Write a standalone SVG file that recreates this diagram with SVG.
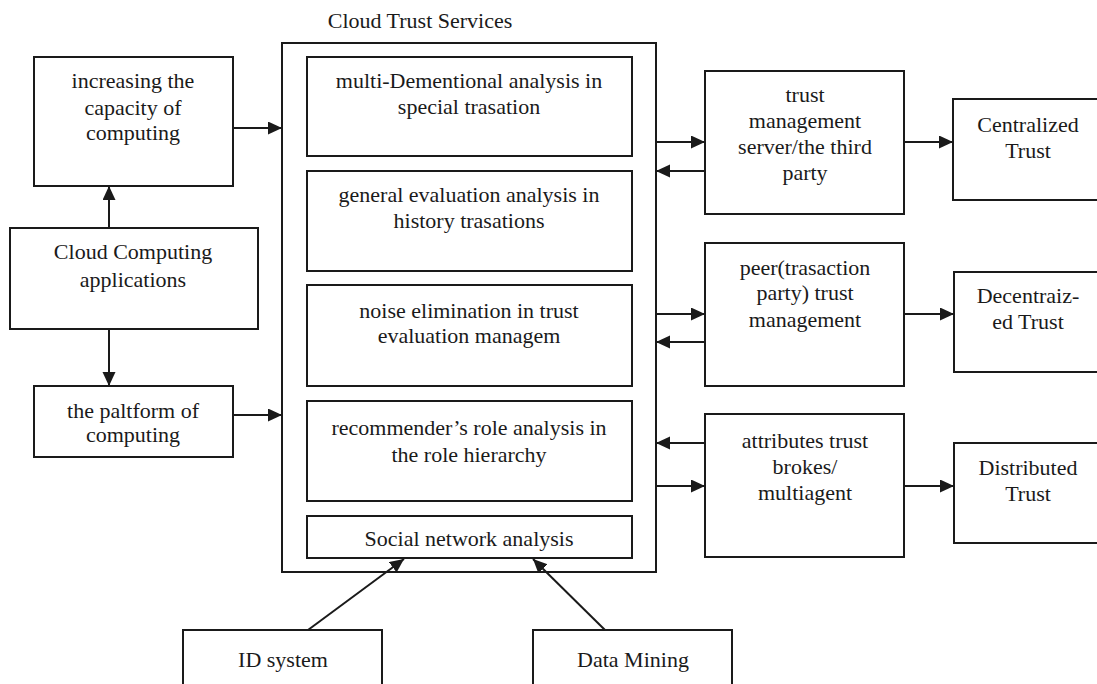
<svg xmlns="http://www.w3.org/2000/svg" width="1097" height="684" viewBox="0 0 1097 684">
  <defs>
    <marker id="ah" markerUnits="userSpaceOnUse" markerWidth="15" markerHeight="14" refX="14" refY="6.5" orient="auto">
      <path d="M0,0 L14,6.5 L0,13 z" fill="#1a1a1a"/>
    </marker>
    <style>
      .box { fill: #ffffff; stroke: #1a1a1a; stroke-width: 2; }
      .t { font-family: "Liberation Serif", "Times New Roman", serif; font-size: 22px; fill: #1a1a1a; text-anchor: middle; }
      .c { stroke: #1a1a1a; stroke-width: 2; fill: none; marker-end: url(#ah); }
    </style>
  </defs>
  <rect width="1097" height="684" fill="#ffffff"/>

  <g id="cloud-trust-services">
    <rect class="box" x="282" y="43" width="374" height="529"/>
    <text class="t" x="420" y="28">Cloud Trust Services</text>
  </g>
  <g id="multi-dimensional">
    <rect class="box" x="307" y="57" width="325" height="99"/>
    <text class="t" x="469" y="88">multi-Dementional analysis in</text>
    <text class="t" x="469" y="114">special trasation</text>
  </g>
  <g id="general-evaluation">
    <rect class="box" x="307" y="171" width="325" height="100"/>
    <text class="t" x="469" y="202">general evaluation analysis in</text>
    <text class="t" x="469" y="228">history trasations</text>
  </g>
  <g id="noise-elimination">
    <rect class="box" x="307" y="285" width="325" height="101"/>
    <text class="t" x="469" y="318">noise elimination in trust</text>
    <text class="t" x="469" y="343">evaluation managem</text>
  </g>
  <g id="recommender">
    <rect class="box" x="307" y="401" width="325" height="100"/>
    <text class="t" x="469" y="435">recommender’s role analysis in</text>
    <text class="t" x="469" y="462">the role hierarchy</text>
  </g>
  <g id="social-network">
    <rect class="box" x="307" y="516" width="325" height="42"/>
    <text class="t" x="469" y="546">Social network analysis</text>
  </g>

  <g id="increasing-capacity">
    <rect class="box" x="34" y="57" width="199" height="129"/>
    <text class="t" x="133" y="88">increasing the</text>
    <text class="t" x="133" y="115">capacity of</text>
    <text class="t" x="133" y="140">computing</text>
  </g>
  <g id="cloud-computing-applications">
    <rect class="box" x="10" y="228" width="248" height="101"/>
    <text class="t" x="133" y="259">Cloud Computing</text>
    <text class="t" x="133" y="287">applications</text>
  </g>
  <g id="platform">
    <rect class="box" x="34" y="386" width="199" height="71"/>
    <text class="t" x="133" y="418">the paltform of</text>
    <text class="t" x="133" y="442">computing</text>
  </g>

  <g id="trust-management-server">
    <rect class="box" x="705" y="71" width="199" height="143"/>
    <text class="t" x="805" y="102">trust</text>
    <text class="t" x="805" y="128">management</text>
    <text class="t" x="805" y="154">server/the third</text>
    <text class="t" x="805" y="180">party</text>
  </g>
  <g id="peer-trust-management">
    <rect class="box" x="705" y="243" width="199" height="143"/>
    <text class="t" x="805" y="275">peer(trasaction</text>
    <text class="t" x="805" y="300">party) trust</text>
    <text class="t" x="805" y="327">management</text>
  </g>
  <g id="attributes-trust">
    <rect class="box" x="705" y="414" width="199" height="143"/>
    <text class="t" x="805" y="448">attributes trust</text>
    <text class="t" x="805" y="474">brokes/</text>
    <text class="t" x="805" y="500">multiagent</text>
  </g>

  <g id="centralized-trust">
    <rect class="box" x="953" y="99" width="160" height="101"/>
    <text class="t" x="1028" y="132">Centralized</text>
    <text class="t" x="1028" y="158">Trust</text>
  </g>
  <g id="decentralized-trust">
    <rect class="box" x="954" y="272" width="160" height="100"/>
    <text class="t" x="1028" y="303">Decentraiz-</text>
    <text class="t" x="1028" y="329">ed Trust</text>
  </g>
  <g id="distributed-trust">
    <rect class="box" x="954" y="443" width="160" height="100"/>
    <text class="t" x="1028" y="475">Distributed</text>
    <text class="t" x="1028" y="501">Trust</text>
  </g>

  <g id="id-system">
    <rect class="box" x="183" y="630" width="199" height="80"/>
    <text class="t" x="283" y="667">ID system</text>
  </g>
  <g id="data-mining">
    <rect class="box" x="533" y="630" width="199" height="80"/>
    <text class="t" x="633" y="667">Data Mining</text>
  </g>

  <g id="connectors">
    <line class="c" x1="233" y1="128" x2="282" y2="128"/>
    <line class="c" x1="109" y1="228" x2="109" y2="186"/>
    <line class="c" x1="109" y1="329" x2="109" y2="386"/>
    <line class="c" x1="233" y1="415" x2="282" y2="415"/>

    <line class="c" x1="656" y1="142" x2="705" y2="142"/>
    <line class="c" x1="705" y1="171" x2="656" y2="171"/>
    <line class="c" x1="904" y1="142" x2="953" y2="142"/>

    <line class="c" x1="656" y1="314" x2="705" y2="314"/>
    <line class="c" x1="705" y1="342" x2="656" y2="342"/>
    <line class="c" x1="904" y1="314" x2="954" y2="314"/>

    <line class="c" x1="705" y1="443" x2="656" y2="443"/>
    <line class="c" x1="656" y1="486" x2="705" y2="486"/>
    <line class="c" x1="904" y1="486" x2="954" y2="486"/>

    <line class="c" x1="308" y1="630" x2="404" y2="559"/>
    <line class="c" x1="605" y1="630" x2="533" y2="559"/>
  </g>
</svg>
